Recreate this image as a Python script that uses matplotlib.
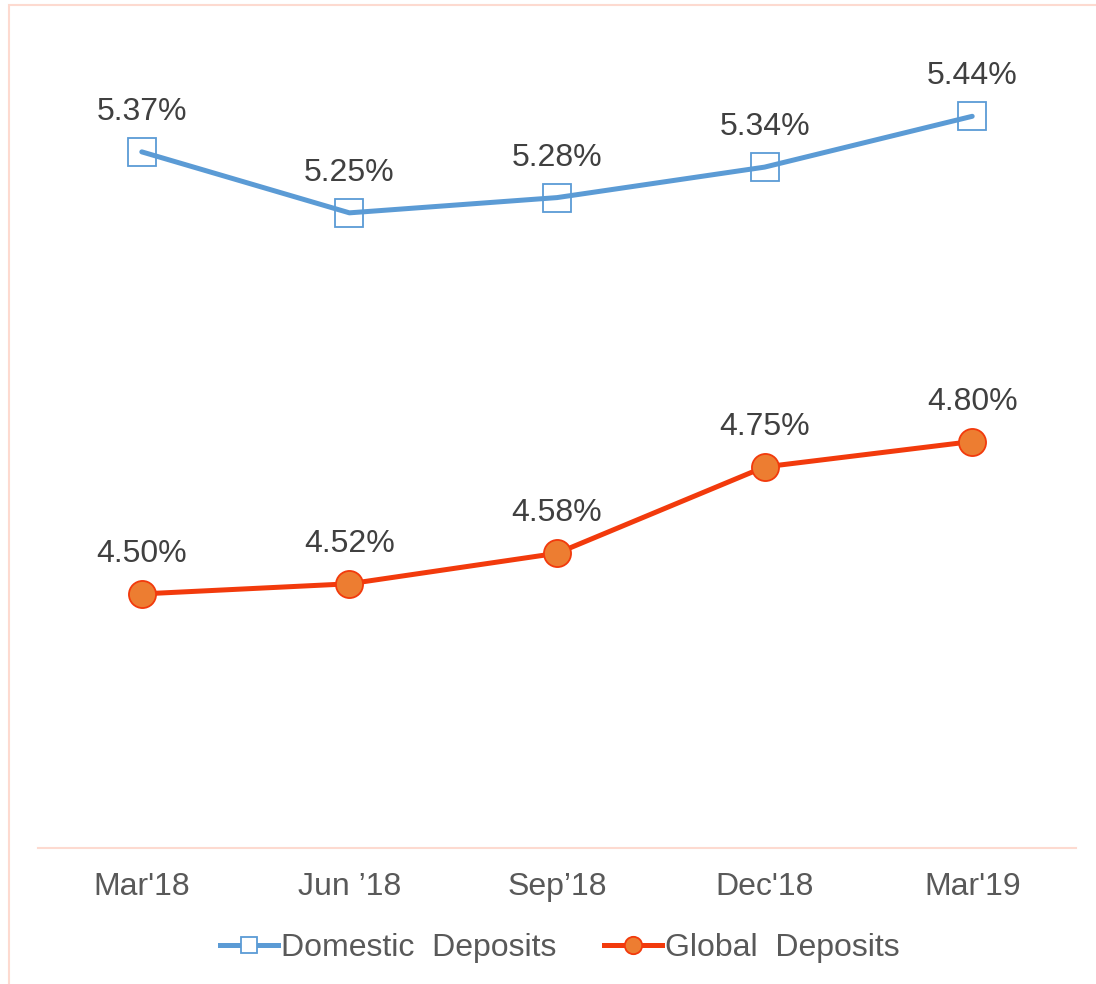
import matplotlib.pyplot as plt
from matplotlib.patches import Rectangle

plt.rcParams['font.family'] = ['Liberation Sans', 'DejaVu Sans']

quarters = ["Mar'18", "Jun \u201918", "Sep\u201918", "Dec'18", "Mar'19"]
domestic = [5.37, 5.25, 5.28, 5.34, 5.44]
global_dep = [4.50, 4.52, 4.58, 4.75, 4.80]

blue = '#5B9BD5'
red = '#F23A0C'
orange = '#ED7D31'
x = list(range(len(quarters)))

fig = plt.figure(figsize=(10.96, 9.84), dpi=100)
fig.patches.append(Rectangle((9 / 1096, -0.01), 1.1, 1 - 5 / 984 + 0.01,
                             transform=fig.transFigure, fill=False,
                             edgecolor='#FDDAD0', linewidth=1.5))
ax = fig.add_axes([38 / 1096, 136 / 984, 1038 / 1096, 813 / 984])

# lines on top of markers (like the original)
ax.plot(x, domestic, color=blue, lw=3.6, solid_capstyle='round', zorder=3)
ax.plot(x, domestic, ls='none', marker='s', ms=19.5, mfc='white', mec=blue,
        mew=1.3, zorder=2)
ax.plot(x, global_dep, color=red, lw=3.6, solid_capstyle='round', zorder=3,
        marker='o', ms=19.5, mfc=orange, mec=red, mew=1.3)

for xi, v in zip(x, domestic):
    ax.annotate(f'{v:.2f}%', (xi, v), xytext=(0, 18), textcoords='offset points',
                ha='center', va='bottom', fontsize=23, color='#404040')
for xi, v in zip(x, global_dep):
    ax.annotate(f'{v:.2f}%', (xi, v), xytext=(0, 18), textcoords='offset points',
                ha='center', va='bottom', fontsize=23, color='#404040')

ax.set_xlim(-0.5, 4.5)
ax.set_ylim(4.0, 5.6)
ax.set_xticks(x)
ax.set_xticklabels(quarters, fontsize=23, color='#595959')
ax.tick_params(axis='x', length=0, pad=17)
ax.set_yticks([])
for s in ['top', 'left', 'right']:
    ax.spines[s].set_visible(False)
ax.spines['bottom'].set_color('#FDDAD0')
ax.spines['bottom'].set_linewidth(1.5)

h1, = ax.plot([], [], color=blue, lw=3.6, marker='s', ms=12, mfc='white', mec=blue, mew=1.3)
h2, = ax.plot([], [], color=red, lw=3.6, marker='o', ms=12.5, mfc=orange, mec=red, mew=1.3)
fig.legend([h1, h2], ['Domestic  Deposits', 'Global  Deposits'], loc='center',
           bbox_to_anchor=(560 / 1096, 1 - 948 / 984), ncol=2, frameon=False,
           fontsize=23, labelcolor='#595959', handlelength=1.8, handletextpad=0.1,
           columnspacing=1.5)

fig.savefig('out.png', dpi=100)
